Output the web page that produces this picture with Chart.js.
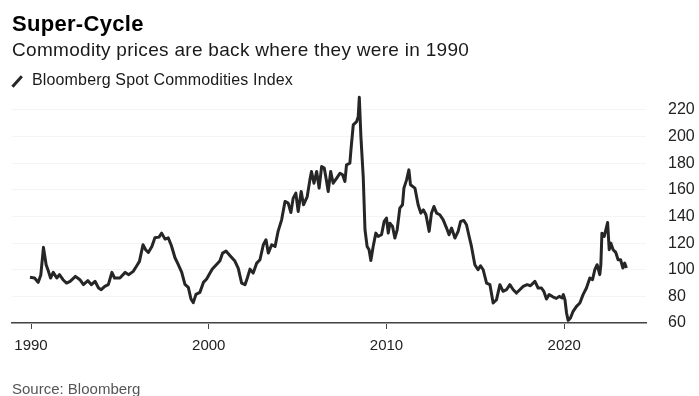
<!DOCTYPE html>
<html>
<head>
<meta charset="utf-8">
<script src="https://cdn.jsdelivr.net/npm/chart.js@4"></script>
<style>
  body { margin: 0; background: #fff; font-family: "Liberation Sans", Arial, sans-serif; }
  #wrap { position: relative; width: 699px; height: 396px; overflow: hidden; }
  #chart { position: absolute; left: 0; top: 0; }
  .txt { position: absolute; left: 12px; white-space: nowrap; line-height: 1; }
  #title { top: 13px; font-size: 22px; font-weight: bold; color: #000; letter-spacing: 0.3px; }
  #subtitle { top: 40px; font-size: 19px; color: #1a1a1a; letter-spacing: 0.3px; }
  #legend { top: 72px; left: 32px; font-size: 16px; color: #1a1a1a; letter-spacing: 0.15px; }
  #legend-mark { position: absolute; left: 10px; top: 80px; width: 14px; height: 2.6px; background: #262626; transform: rotate(-48deg); }
  #source { top: 381px; font-size: 15px; color: #555; }
</style>
</head>
<body>
<div id="wrap">
  <canvas id="chart" width="699" height="396"></canvas>
  <div class="txt" id="title">Super-Cycle</div>
  <div class="txt" id="subtitle">Commodity prices are back where they were in 1990</div>
  <div id="legend-mark"></div>
  <div class="txt" id="legend">Bloomberg Spot Commodities Index</div>
  <div class="txt" id="source">Source: Bloomberg</div>
</div>
<script>
// Bloomberg Spot Commodities Index, decimal year -> index level
const years = [
  1989.94, 1990.2, 1990.4, 1990.55, 1990.7, 1990.85, 1990.98, 1991.1, 1991.25, 1991.45,
  1991.6, 1991.8, 1992.0, 1992.2, 1992.5, 1992.75, 1992.95, 1993.2, 1993.4, 1993.6,
  1993.8, 1993.95, 1994.15, 1994.35, 1994.55, 1994.7, 1995.0, 1995.3, 1995.5, 1995.75,
  1995.95, 1996.1, 1996.3, 1996.45, 1996.6, 1996.8, 1996.97, 1997.2, 1997.35, 1997.54,
  1997.72, 1997.9, 1998.1, 1998.28, 1998.48, 1998.66, 1998.85, 1999.0, 1999.13, 1999.28,
  1999.5, 1999.7, 1999.88, 2000.07, 2000.2, 2000.44, 2000.63, 2000.78, 2000.97, 2001.2,
  2001.47, 2001.66, 2001.85, 2002.04, 2002.17, 2002.32, 2002.5, 2002.7, 2002.88, 2003.07,
  2003.22, 2003.35, 2003.54, 2003.73, 2003.9, 2004.1, 2004.29, 2004.47, 2004.62, 2004.75,
  2004.9, 2005.03, 2005.2, 2005.33, 2005.54, 2005.69, 2005.78, 2005.92, 2006.07, 2006.21,
  2006.35, 2006.5, 2006.63, 2006.72, 2006.86, 2007.0, 2007.2, 2007.38, 2007.53, 2007.66,
  2007.75, 2007.94, 2008.0, 2008.13, 2008.32, 2008.41, 2008.47, 2008.56, 2008.69, 2008.79,
  2008.91, 2009.02, 2009.12, 2009.25, 2009.4, 2009.53, 2009.72, 2009.87, 2010.0, 2010.1,
  2010.19, 2010.34, 2010.47, 2010.6, 2010.75, 2010.9, 2010.98, 2011.13, 2011.26, 2011.35,
  2011.6, 2011.78, 2011.93, 2012.07, 2012.22, 2012.4, 2012.53, 2012.67, 2012.82, 2013.0,
  2013.19, 2013.38, 2013.52, 2013.66, 2013.85, 2014.03, 2014.17, 2014.35, 2014.5, 2014.65,
  2014.78, 2014.97, 2015.15, 2015.29, 2015.44, 2015.63, 2015.82, 2016.0, 2016.19, 2016.38,
  2016.56, 2016.75, 2016.94, 2017.13, 2017.31, 2017.5, 2017.69, 2017.91, 2018.1, 2018.35,
  2018.53, 2018.72, 2018.85, 2019.0, 2019.15, 2019.38, 2019.56, 2019.72, 2019.88, 2019.95,
  2020.04, 2020.13, 2020.22, 2020.35, 2020.5, 2020.69, 2020.88, 2021.06, 2021.25, 2021.44,
  2021.59, 2021.72, 2021.85, 2022.0, 2022.06, 2022.12, 2022.25, 2022.34, 2022.44, 2022.53,
  2022.62, 2022.75, 2022.9, 2023.03, 2023.17, 2023.3, 2023.4, 2023.5
];
const values = [
  94.3, 93.8, 90.5, 96, 116.8, 103.8, 98.8, 93.8, 98, 93.8,
  96.3, 92.5, 90, 91.3, 95, 92.5, 88.8, 91.8, 88.8, 91.3,
  86.3, 85, 87.5, 88.8, 98, 93.8, 93.8, 98, 96.3, 98.8,
  103, 106.3, 118.8, 115, 113, 117.5, 124, 124.5, 127.5, 123,
  124, 118, 109, 104, 98, 89, 86.8, 78, 75.3, 81.5,
  83, 90.5, 93, 97.5, 100.5, 104, 106.8, 112.5, 114, 110.5,
  106.5, 101, 90, 88.8, 93.8, 100.5, 97.5, 105, 107.5, 118.8,
  122.5, 112.5, 118.8, 117.5, 128.8, 137.5, 151.3, 150, 143, 153.8,
  157.5, 143.8, 158.8, 148.8, 155, 167.5, 173.8, 165, 173.8, 161.3,
  177.5, 176.3, 166.3, 158.8, 173.8, 165, 168.8, 172.5, 171.3, 166.3,
  178.8, 180, 190, 208.8, 211.3, 215, 229.5, 200, 170, 130,
  117.5, 115, 107, 117.5, 127.5, 125, 126.3, 136.3, 138.8, 127.5,
  135, 132.5, 123.8, 130, 146.3, 148.8, 161.3, 167.5, 175, 163.8,
  161.3, 148.8, 142.5, 145, 141.3, 128.8, 142.5, 147.5, 142.5, 141.3,
  137.5, 131.3, 126.3, 131.3, 123.8, 128.8, 136.3, 137, 133.8, 125,
  117.5, 103.8, 100, 103, 100, 90, 88.8, 75, 77.5, 88.8,
  83.8, 85, 88.8, 85, 82.5, 85, 87.5, 88.8, 88, 91.3,
  86.3, 86.3, 83.8, 78, 81.3, 79.5, 78.5, 80, 78.8, 81.3,
  77.5, 67.5, 62, 63.8, 68.8, 72.5, 75, 81.3, 86.3, 93.8,
  92.5, 100, 103.8, 96.3, 103.8, 127.5, 125, 130, 135.5, 115,
  120, 115, 113, 107.5, 107.5, 101.3, 105, 101.3
];
const xTicks = [1990, 2000, 2010, 2020];
const yTicks = [60, 80, 100, 120, 140, 160, 180, 200, 220];

const points = years.map((yr, i) => ({ x: yr, y: values[i] }));

new Chart(document.getElementById('chart').getContext('2d'), {
  type: 'line',
  data: {
    datasets: [{
      data: points,
      borderColor: '#262626',
      borderWidth: 3,
      borderJoinStyle: 'round',
      tension: 0,
      pointRadius: 0,
      fill: false,
    }],
  },
  options: {
    responsive: false,
    animation: false,
    layout: { padding: { left: 12, top: 94, right: 0, bottom: 0 } },
    plugins: { legend: { display: false }, tooltip: { enabled: false } },
    scales: {
      x: {
        type: 'linear',
        min: 1988.93,
        max: 2024.6,
        afterBuildTicks: (scale) => { scale.ticks = xTicks.map(v => ({ value: v })); },
        afterFit: (scale) => { scale.height = 73; },
        grid: { drawOnChartArea: false, drawTicks: true, tickLength: 6, color: '#444', lineWidth: 1 },
        border: { display: true, color: '#444', width: 1.5 },
        ticks: {
          padding: 8,
          color: '#222',
          font: { family: '"Liberation Sans", Arial, sans-serif', size: 15 },
          callback: (v) => String(v),
        },
      },
      y: {
        position: 'right',
        min: 60,
        max: 232,
        afterBuildTicks: (scale) => { scale.ticks = yTicks.map(v => ({ value: v })); },
        afterFit: (scale) => { scale.width = 53; },
        grid: { drawTicks: false, color: '#f4f4f4', lineWidth: 1 },
        border: { display: false },
        ticks: {
          padding: 22,
          color: '#222',
          font: { family: '"Liberation Sans", Arial, sans-serif', size: 16 },
        },
      },
    },
  },
});
</script>
</body>
</html>
